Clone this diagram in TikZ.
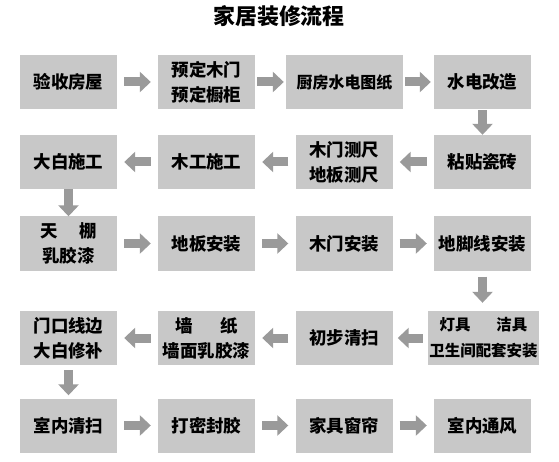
\documentclass[tikz,border=0pt]{standalone}
\usepackage{fontspec}
\newfontfamily\cjk{Noto Sans CJK SC}
\usetikzlibrary{arrows.meta}
\definecolor{boxgray}{HTML}{C8C8C8}
\definecolor{arrowgray}{HTML}{9A9A9A}

\begin{document}
\begin{tikzpicture}[x=1bp,y=-1bp,
  stepbox/.style={fill=boxgray,minimum width=97bp,minimum height=54bp,inner sep=0pt,align=center,font=\cjk\bfseries\fontsize{17.5}{25}\selectfont},
  flow/.style={draw=arrowgray,line width=9bp,-{Triangle[width=20bp,length=11bp]},shorten <=7bp,shorten >=7bp}]
 \useasboundingbox (0,0) rectangle (559,462); %画面
 \node[font=\cjk\bfseries\fontsize{22}{22}\selectfont] (title) at (279,16) {家居装修流程}; %标题
 % 第一行
 \node[stepbox] (yanshou) at (68.5,82) {验收房屋};
 \node[stepbox] (yuding) at (206.5,82) {预定木门\\预定橱柜};
 \node[stepbox,minimum width=117bp,font=\cjk\bfseries\fontsize{16}{25}\selectfont] (tuzhi) at (344.5,82) {厨房水电图纸};
 \node[stepbox] (shuidian) at (482.5,82) {水电改造};
 % 第二行
 \node[stepbox] (cizhuan) at (482.5,162) {粘贴瓷砖};
 \node[stepbox] (cechi) at (344,162) {木门测尺\\地板测尺};
 \node[stepbox] (mugong) at (206.5,162) {木工施工};
 \node[stepbox] (dabai) at (68.5,162) {大白施工};
 % 第三行
 \node[stepbox] (tianpeng) at (68.5,243.5) {天\hspace{22bp}棚\\乳胶漆};
 \node[stepbox] (diban) at (206.5,243.5) {地板安装};
 \node[stepbox] (mumen) at (344,243.5) {木门安装};
 \node[stepbox] (dijiao) at (482.5,243.5) {地脚线安装};
 % 第四行
 \node[stepbox,minimum width=111bp,font=\cjk\bfseries\fontsize{15.5}{26}\selectfont] (dengju) at (483.5,338) {灯具\hspace{26bp}洁具\\卫生间配套安装};
 \node[stepbox] (qingsao) at (344,338) {初步清扫};
 \node[stepbox] (qiangzhi) at (206.5,338) {墙\hspace{28bp}纸\\墙面乳胶漆};
 \node[stepbox] (xiubu) at (68.5,338) {门口线边\\大白修补};
 % 第五行
 \node[stepbox] (shinei) at (68.5,425.5) {室内清扫};
 \node[stepbox] (fengjiao) at (206.5,425.5) {打密封胶};
 \node[stepbox] (chuanglian) at (344,425.5) {家具窗帘};
 \node[stepbox] (tongfeng) at (482.5,425.5) {室内通风};
 % 箭头
 \draw[flow] (yanshou) -- (yuding);
 \draw[flow,shorten <=2bp,shorten >=2bp] (yuding) -- (tuzhi);
 \draw[flow,shorten <=2bp,shorten >=3bp] (tuzhi) -- (shuidian);
 \draw[flow,shorten <=1bp,shorten >=0bp] (shuidian) -- (cizhuan);
 \draw[flow] (cizhuan) -- (cechi);
 \draw[flow] (cechi) -- (mugong);
 \draw[flow] (mugong) -- (dabai);
 \draw[flow,shorten <=0bp,shorten >=0bp] (dabai) -- (tianpeng);
 \draw[flow] (tianpeng) -- (diban);
 \draw[flow] (diban) -- (mumen);
 \draw[flow] (mumen) -- (dijiao);
 \draw[flow,shorten <=6bp,shorten >=8bp] (dijiao) -- (dijiao.south |- dengju.north);
 \draw[flow,shorten <=5bp,shorten >=5bp] (dengju) -- (qingsao);
 \draw[flow] (qingsao) -- (qiangzhi);
 \draw[flow] (qiangzhi) -- (xiubu);
 \draw[flow,shorten <=5bp,shorten >=3bp] (xiubu) -- (shinei);
 \draw[flow] (shinei) -- (fengjiao);
 \draw[flow] (fengjiao) -- (chuanglian);
 \draw[flow] (chuanglian) -- (tongfeng);
\end{tikzpicture}
\end{document}
